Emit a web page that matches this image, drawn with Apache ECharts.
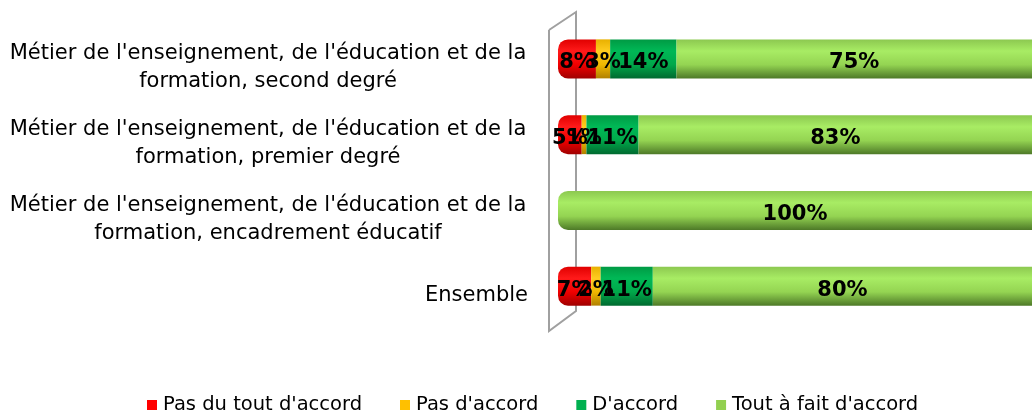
<!DOCTYPE html>
<html>
<head>
<meta charset="utf-8">
<script src="https://cdn.jsdelivr.net/npm/echarts@6/dist/echarts.min.js"></script>
<style>
html,body{margin:0;padding:0;background:#fff;}
#chart{width:1036px;height:412px;}
</style>
</head>
<body>
<div id="chart"></div>
<script>
const categories = [
  "Métier de l'enseignement, de l'éducation et de la\nformation, second degré",
  "Métier de l'enseignement, de l'éducation et de la\nformation, premier degré",
  "Métier de l'enseignement, de l'éducation et de la\nformation, encadrement éducatif",
  "Ensemble"
];
const seriesNames = ["Pas du tout d'accord", "Pas d'accord", "D'accord", "Tout à fait d'accord"];
const pasDuTout = [8, 5, 0, 7];
const pasDaccord = [3, 1, 0, 2];
const daccord = [14, 11, 0, 11];
const toutAFait = [75, 83, 100, 80];

const values = [pasDuTout, pasDaccord, daccord, toutAFait];
const legendColors = ['#FF0000', '#FFC000', '#00B050', '#92D050'];
const shades = [
  ['#e00000', '#ff1a1a', '#f00000', '#a00000'],
  ['#e8b000', '#ffcc20', '#f0b800', '#b08000'],
  ['#009a44', '#00b856', '#00a84a', '#006a30'],
  ['#8cc850', '#a8ec64', '#94d452', '#4e7a28']
];
function grad(s) {
  return new echarts.graphic.LinearGradient(0, 0, 0, 1, [
    {offset: 0, color: s[0]},
    {offset: 0.3, color: s[1]},
    {offset: 0.65, color: s[2]},
    {offset: 1, color: s[3]}
  ]);
}

const series = values.map((vals, si) => ({
  name: seriesNames[si],
  type: 'bar',
  stack: 'total',
  barWidth: 39,
  z: 3,
  itemStyle: {color: grad(shades[si])},
  label: {
    show: true,
    position: 'inside',
    offset: [0, 4],
    color: '#000',
    fontFamily: 'DejaVu Sans',
    fontWeight: 'bold',
    fontSize: 21,
    formatter: p => p.value > 0 ? p.value + '%' : ''
  },
  data: vals.map((v, ci) => {
    const firstNonZero = values.findIndex(arr => arr[ci] > 0);
    const item = {value: v};
    if (si === firstNonZero) item.itemStyle = {borderRadius: [10, 0, 0, 10]};
    return item;
  })
}));

const labelFont = {fontFamily: 'DejaVu Sans', fontSize: 21, color: '#000', lineHeight: 28};

const chart = echarts.init(document.getElementById('chart'));
chart.setOption({
  animation: false,
  color: legendColors,
  grid: {left: 558, right: 4, top: 21, bottom: 88},
  xAxis: {type: 'value', min: 0, max: 100, show: false},
  yAxis: {
    type: 'category',
    data: categories,
    inverse: true,
    axisLine: {show: false},
    axisTick: {show: false},
    axisLabel: {
      margin: 30,
      align: 'right',
      formatter: v => {
        const lines = v.split('\n');
        if (lines.length === 1) return '{e|' + v + '}';
        return '{a|' + lines[0] + '}\n{a|' + lines[1] + '}';
      },
      rich: {
        a: Object.assign({width: 520, align: 'center', padding: [18, 0, 0, 0]}, labelFont),
        e: Object.assign({padding: [18, 0, 0, 0]}, labelFont)
      }
    }
  },
  legend: {
    top: 390,
    left: 142,
    itemWidth: 10,
    itemHeight: 10,
    itemGap: 38,
    icon: 'rect',
    textStyle: {fontFamily: 'DejaVu Sans', fontSize: 19.5, color: '#000', padding: [0, 0, 0, 1]},
    data: seriesNames.map((n, i) => ({name: n, itemStyle: {color: legendColors[i]}}))
  },
  graphic: [{
    type: 'polyline',
    z: 0,
    shape: {points: [[549, 30], [576, 12], [576, 311], [549, 331], [549, 30]]},
    style: {stroke: '#a0a0a0', lineWidth: 2, fill: null}
  }],
  series: series
});
</script>
</body>
</html>
